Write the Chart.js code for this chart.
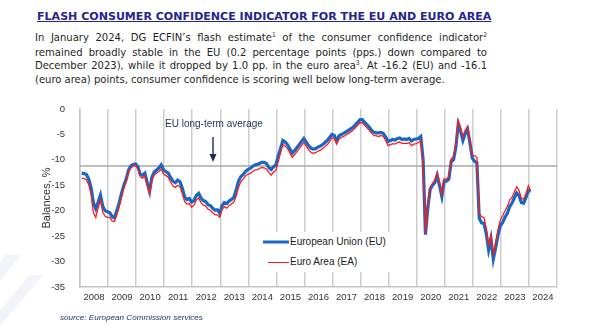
<!DOCTYPE html>
<html><head><meta charset="utf-8">
<script src="https://cdn.jsdelivr.net/npm/chart.js@4.4.1/dist/chart.umd.min.js"></script>
<style>
html,body{margin:0;padding:0;background:#fff;}
#wrap{position:relative;width:600px;height:336px;overflow:hidden;background:#fff;}
.deco{position:absolute;background:#f3f4fa;transform:skewX(-40deg);}
#title{position:absolute;left:37px;top:9px;font-family:'DejaVu Sans';font-weight:bold;font-size:12px;line-height:15px;color:#25258c;text-decoration:underline;white-space:nowrap;}
.pl{position:absolute;left:35px;width:452px;font-family:'DejaVu Sans';font-stretch:condensed;font-size:11px;line-height:14px;color:#1e1e1e;text-align:justify;text-align-last:justify;white-space:nowrap;}
.pl.last{text-align-last:left;text-align:left;}
.pl sup{font-size:0.6em;vertical-align:0.55em;line-height:0;}
canvas{position:absolute;left:0;top:0;}
.ov{position:absolute;white-space:nowrap;font-family:'Liberation Sans',Arial,sans-serif;}
#legend{position:absolute;left:262px;top:232px;width:128px;height:40px;background:#fff;}
.li{position:absolute;left:0;width:130px;height:20px;}
.sw{position:absolute;top:9px;height:0;}
.lt{position:absolute;left:28px;top:3px;font-family:'Liberation Sans',Arial,sans-serif;font-size:10px;line-height:14px;color:#1a1a1a;white-space:nowrap;}
</style></head>
<body>
<div id="wrap">
  <div class="deco" style="left:-30px;top:255px;width:16px;height:85px;"></div>
  <div class="deco" style="left:2px;top:275px;width:14px;height:65px;"></div>
  <div id="title">FLASH CONSUMER CONFIDENCE INDICATOR FOR THE EU AND EURO AREA</div>
  <div class="pl" style="top:31px">In January 2024, DG ECFIN’s flash estimate<sup>1</sup> of the consumer confidence indicator<sup>2</sup></div>
  <div class="pl" style="top:45.5px">remained broadly stable in the EU (0.2 percentage points (pps.) down compared to</div>
  <div class="pl" style="top:59px">December 2023), while it dropped by 1.0 pp. in the euro area<sup>3</sup>. At -16.2 (EU) and -16.1</div>
  <div class="pl last" style="top:73px">(euro area) points, consumer confidence is scoring well below long-term average.</div>
  <canvas id="c" width="600" height="336"></canvas>
  <div id="ann" class="ov" style="left:165px;top:117px;font-size:10px;line-height:13px;color:#1f2f5c;">EU long-term average</div>
  <svg style="position:absolute;left:205px;top:134px" width="16" height="32">
    <line x1="8" y1="3" x2="8" y2="22" stroke="#1f2a5c" stroke-width="1.4"/>
    <polygon points="4.5,20 11.5,20 8,28" fill="#1f2a5c"/>
  </svg>
  <div id="legend">
    <div class="li" style="top:0">
      <div class="sw" style="left:1px;width:26px;border-top:4px solid #8fb8e6;top:8px"></div>
      <div class="sw" style="left:1px;width:26px;border-top:2.4px solid #1767c4;top:8.8px"></div>
      <div class="lt" id="lg1">European Union (EU)</div>
    </div>
    <div class="li" style="top:20px">
      <div class="sw" style="left:6px;width:21px;border-top:1.3px solid #ff1a1a;top:9.5px"></div>
      <div class="lt" id="lg2">Euro Area (EA)</div>
    </div>
  </div>
  <div id="src" class="ov" style="left:60px;top:312px;font-size:9px;line-height:12px;font-style:italic;color:#1f3560;">source: European Commission services</div>
</div>
<script>
// ---- data ----
const startYear = 2008;
const yearLabels = ['2008','2009','2010','2011','2012','2013','2014','2015','2016','2017','2018','2019','2020','2021','2022','2023','2024'];
const yTickValues = [0,-5,-10,-15,-20,-25,-30,-35];
const longTermAverageEU = -11.2;
// European Union (EU), monthly balances, Jan 2008 - Jan 2024
const euValues = [
 -12.6,-12.7,-12.9,-13.8,-15.5,-18.5,-19.6,-18.3,-16.9,-19.2,-20.0,-20.2,
 -20.4,-21.2,-21.4,-20.0,-18.5,-16.6,-15.0,-13.8,-12.0,-11.2,-10.9,-10.8,
 -11.3,-12.8,-13.0,-12.6,-14.5,-16.2,-13.4,-12.4,-12.0,-11.6,-11.0,-12.0,
 -12.3,-12.6,-13.5,-14.2,-14.5,-14.0,-14.3,-15.6,-17.3,-17.8,-17.6,-18.3,
 -18.0,-17.0,-16.6,-17.5,-18.0,-18.2,-18.8,-19.0,-19.5,-19.9,-19.8,-20.5,
 -19.0,-18.4,-18.6,-18.1,-17.8,-17.4,-16.0,-14.2,-13.3,-12.9,-12.3,-11.9,
 -11.7,-11.3,-11.0,-10.9,-10.7,-10.5,-10.5,-10.7,-11.5,-11.9,-11.4,-11.0,
 -9.3,-7.8,-6.2,-6.5,-7.0,-7.8,-8.7,-8.2,-7.6,-7.0,-6.4,-5.8,
 -6.5,-7.2,-7.7,-7.9,-7.8,-7.5,-7.3,-7.0,-6.6,-6.2,-5.6,-5.0,
 -5.2,-6.3,-5.3,-5.0,-4.8,-4.5,-4.2,-3.9,-3.6,-3.1,-2.6,-2.1,
 -2.1,-2.6,-3.1,-3.6,-4.2,-4.6,-4.7,-4.7,-4.6,-4.8,-5.5,-6.4,
 -6.2,-6.0,-6.1,-5.8,-5.7,-6.0,-5.9,-6.0,-5.8,-6.3,-6.0,-5.9,
 -5.8,-5.4,-10.0,-24.7,-19.5,-15.8,-15.0,-14.5,-13.0,-15.0,-17.2,-14.2,
 -14.2,-13.8,-10.3,-10.0,-7.5,-3.0,-4.3,-6.2,-4.8,-4.0,-6.6,-9.6,
 -10.3,-10.6,-21.5,-22.4,-22.5,-24.5,-27.7,-25.5,-29.5,-27.3,-24.8,-23.0,
 -22.3,-21.3,-20.5,-19.2,-18.5,-17.5,-16.5,-17.0,-18.4,-18.5,-17.4,-16.0,
 -16.2
];
// Euro Area (EA), monthly balances, Jan 2008 - Jan 2024
const eaValues = [
 -13.6,-13.7,-13.9,-14.9,-16.8,-20.4,-21.3,-19.5,-17.8,-20.3,-21.1,-21.3,
 -21.3,-22.0,-22.1,-20.8,-19.2,-17.3,-15.6,-14.3,-12.4,-11.6,-11.2,-11.1,
 -11.8,-13.3,-13.6,-13.1,-15.0,-16.7,-14.0,-13.0,-12.6,-12.3,-11.8,-12.8,
 -13.1,-13.4,-14.4,-15.1,-15.4,-15.0,-15.3,-16.6,-18.2,-18.7,-18.6,-19.3,
 -18.9,-17.9,-17.5,-18.4,-18.9,-19.1,-19.7,-19.9,-20.4,-20.8,-20.8,-21.3,
 -19.8,-19.2,-19.5,-19.0,-18.7,-18.3,-17.2,-15.5,-14.3,-13.8,-13.2,-12.8,
 -12.7,-12.3,-12.0,-11.9,-11.7,-11.5,-11.6,-11.8,-12.4,-13.0,-12.4,-12.1,
 -10.4,-8.6,-7.0,-7.3,-7.8,-8.6,-9.5,-9.0,-8.4,-7.8,-7.2,-6.6,
 -7.3,-8.0,-8.5,-8.7,-8.6,-8.3,-8.1,-7.8,-7.4,-7.0,-6.4,-5.7,
 -5.8,-6.9,-5.9,-5.6,-5.4,-5.1,-4.8,-4.5,-4.2,-3.7,-3.2,-2.7,
 -2.7,-3.2,-3.7,-4.2,-4.8,-5.2,-5.3,-5.4,-5.2,-5.4,-6.2,-7.2,
 -7.0,-6.8,-6.9,-6.6,-6.5,-6.8,-6.7,-6.8,-6.6,-7.2,-6.9,-6.8,
 -6.6,-6.2,-11.5,-24.3,-19.0,-15.4,-14.6,-14.0,-12.6,-14.5,-16.8,-13.7,
 -13.8,-13.3,-9.8,-9.4,-6.8,-2.2,-3.6,-5.5,-4.2,-3.4,-6.1,-9.1,
 -9.2,-9.5,-20.5,-21.2,-21.3,-23.5,-26.7,-24.8,-28.5,-26.3,-23.8,-21.8,
 -21.0,-20.0,-19.2,-17.9,-17.4,-16.3,-15.3,-16.0,-17.6,-17.7,-16.6,-15.1,
 -16.1
];

// ---- text fitting helpers ----
function fitTo(el, target){
  el.style.display='inline-block';
  const w = el.getBoundingClientRect().width;
  const fs = parseFloat(getComputedStyle(el).fontSize);
  el.style.fontSize = (fs*target/w)+'px';
}
fitTo(document.getElementById('title'), 455);
fitTo(document.getElementById('ann'), 98);
fitTo(document.getElementById('lg1'), 96);
fitTo(document.getElementById('src'), 143);
(function(){
  const lines=[...document.querySelectorAll('.pl')];
  function natural(el){
    const ow=el.style.width, od=el.style.display;
    el.style.width='auto'; el.style.display='inline-block';
    const w=el.getBoundingClientRect().width;
    el.style.width=ow; el.style.display=od; return w;
  }
  let fs=11*410/natural(lines[3]);
  lines.forEach(l=>l.style.fontSize=fs+'px');
  let mx=Math.max(...lines.slice(0,3).map(natural));
  if(mx>451){fs*=451/mx; lines.forEach(l=>l.style.fontSize=fs+'px');}
})();

// ---- chart ----
const toPoints = arr => arr.map((v,i)=>({x: startYear + (i+0.75)/12, y: v}));
const endYear = startYear + yearLabels.length;
const tickFont = {family:"'Liberation Sans Narrow','Liberation Sans',Arial", size:9.5};

new Chart(document.getElementById('c'), {
  type:'line',
  data:{datasets:[
    {label:'Euro Area (EA)', data:toPoints(eaValues), borderColor:'#ff1a1a', borderWidth:1.3, pointRadius:0, tension:0},
    {label:'European Union (EU)', data:toPoints(euValues), borderColor:'#1767c4', borderWidth:3.2, pointRadius:0, tension:0},
    {label:'EU long-term average', data:[{x:startYear,y:longTermAverageEU},{x:endYear,y:longTermAverageEU}], borderColor:'#a8a8a8', borderWidth:1.5, pointRadius:0}
  ]},
  options:{
    responsive:false, animation:false, devicePixelRatio:1,
    layout:{padding:{left:40,right:43,top:109,bottom:29}},
    plugins:{legend:{display:false}, tooltip:{enabled:false}},
    scales:{
      x:{type:'linear', min:startYear, max:endYear,
        afterBuildTicks:s=>{ s.ticks = []; for(let y=startYear;y<=endYear;y++) s.ticks.push({value:y}); },
        ticks:{autoSkip:false, maxRotation:0, labelOffset:14, padding:5, color:'#333',
          font:tickFont, callback:(v)=> yearLabels[v-startYear] ?? ''},
        grid:{color:'#cdcdcd', lineWidth:1.5, drawTicks:false},
        border:{display:true, color:'#c4c4c4', width:1.5},
        afterFit:s=>{s.height=20;}
      },
      y:{min:-35, max:0,
        afterBuildTicks:s=>{ s.ticks = yTickValues.map(v=>({value:v})); },
        ticks:{padding:7, color:'#333', font:tickFont},
        grid:{display:false},
        border:{display:true, color:'#c4c4c4', width:1.5},
        title:{display:true, text:'Balances, %', color:'#333', padding:{top:0,bottom:0},
          font:{family:"'Liberation Sans',Arial", size:11}},
        afterFit:s=>{s.width=40;}
      }
    }
  }
});
</script>
</body></html>
